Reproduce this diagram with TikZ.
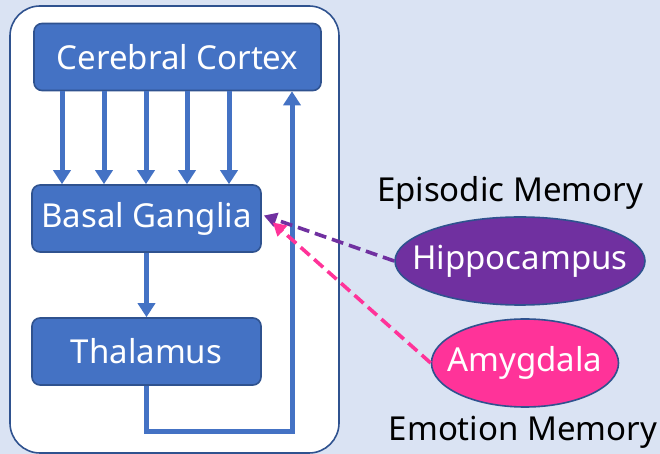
\documentclass[tikz,border=0pt]{standalone}
\usepackage{fontspec}
\setmainfont{Noto Sans}
\usetikzlibrary{shapes.geometric,arrows.meta,positioning,calc}
\definecolor{bgblue}{HTML}{DAE3F3}
\definecolor{boxblue}{HTML}{4472C4}
\definecolor{edgeblue}{HTML}{2F528F}
\definecolor{hippopurple}{HTML}{7030A0}
\definecolor{amygpink}{HTML}{FF3399}

\begin{document}
\begin{tikzpicture}[x=0.5pt, y=-0.5pt,
  region/.style={draw=edgeblue, fill=boxblue, rounded corners=4pt, line width=0.8pt, text=white, font=\fontsize{16.5}{19}\selectfont, minimum height=33.5pt, inner sep=0pt},
  nucleus/.style={ellipse, draw=edgeblue, line width=0.8pt, inner sep=0pt, minimum height=44pt},
  inlabel/.style={text=white, font=\fontsize{16.5}{19}\selectfont},
  tag/.style={font=\fontsize{16.5}{19}\selectfont, text=black},
  arr/.style={-{Triangle[length=7pt, width=8.5pt]}, line width=2.5pt, draw=boxblue},
  link/.style={-{Triangle[length=6.5pt, width=7pt]}, line width=1.8pt, dash pattern=on 6pt off 3pt}
]
% background and panel
\fill[bgblue] (0,0) rectangle (660,454);
\useasboundingbox (0,0) rectangle (660,454);
\draw[edgeblue, fill=white, line width=0.8pt, rounded corners=15pt] (10,6) rectangle (339,453);

% loop nodes
\node[region, minimum width=143.5pt] (cortex) at (177.5,57) {Cerebral Cortex};
\node[region, minimum width=114.5pt] (basal) at (146.5,218.5) {Basal Ganglia};
\node[region, minimum width=114.5pt] (thal) at (146.5,351.5) {Thalamus};

% limbic inputs
\node[nucleus, fill=hippopurple, minimum width=125pt,
  label={[inlabel]center:Hippocampus}] (hippo) at (520,261) {};
\node[nucleus, fill=amygpink, minimum width=93.5pt,
  label={[inlabel]center:Amygdala}] (amyg) at (525,363) {};
\node[tag] (episodic) at (510,193) {Episodic Memory};
\node[tag] (emotion) at (523,432) {Emotion Memory};

% cortex -> basal ganglia
\foreach \x in {62,104,146,187,229}
  \draw[arr] (\x,0 |- cortex.south) -- (\x,0 |- basal.north);
\draw[arr] (basal) -- (thal);

% thalamus back to cortex
\coordinate (turn) at (292,432);
\draw[arr, miter limit=10] (thal.south) |- (turn) -- (turn |- cortex.south);

% dashed inputs
\draw[link, draw=hippopurple] (hippo.west) -- ($(basal.east)+(2,-3)$);
\draw[link, draw=amygpink] (amyg.west) -- ($(basal.east)+(11,4)$);
\end{tikzpicture}
\end{document}
